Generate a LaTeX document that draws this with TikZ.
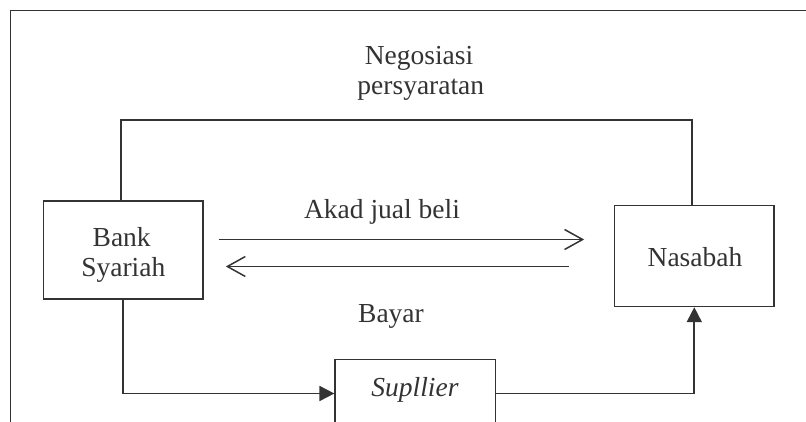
\documentclass[tikz,border=0pt]{standalone}
\usepackage{fontspec}
\setmainfont{Liberation Serif}
\usetikzlibrary{arrows.meta}
\definecolor{ink}{HTML}{333333}
\begin{document}
\begin{tikzpicture}[x=1pt,y=1pt,
  box/.style={draw=ink, line width=1.1pt, minimum width=159.3pt, inner sep=0pt},
  txt/.style={text=ink, anchor=base, inner sep=0pt, font=\fontsize{27.5}{30}\selectfont},
  conn/.style={draw=ink, line width=1.8pt},
  openarr/.style={conn, -{Straight Barb[length=18pt,width=20pt,line width=1.5pt]}},
  fillarr/.style={conn, -{Triangle[length=15pt,width=15pt]}}]
\useasboundingbox (0,0) rectangle (806,421);
\clip (0,0) rectangle (806,421);
% frame
\draw[ink, line width=1pt] (10,-2) -- (10,410) -- (808,410);
% boxes
\node[box, minimum height=98pt] (bank) at (123.3,171) {};
\node[box, minimum height=100.7pt] (nas) at (694.3,164.7) {};
\node[box, minimum width=160.3pt, minimum height=68.6pt] (sup) at (415.1,27.5) {};
% texts
\node[txt] (nego1) at (419,356) {Negosiasi};
\node[txt] (nego2) at (420.8,326) {persyaratan};
\node[txt] (akad) at (382,202.7) {Akad jual beli};
\node[txt] (bank1) at (121.7,174.3) {Bank};
\node[txt] (bank2) at (123.3,144.3) {Syariah};
\node[txt] (nastxt) at (695,154.3) {Nasabah};
\node[txt] (bayar) at (391,98.7) {Bayar};
\node[txt] (suptxt) at (415,25) {\textit{Supllier}};
% connectors
\draw[conn] ([xshift=-2.3pt]bank.north) -- ++(0,80.7) -| ([xshift=-2.6pt]nas.north);
\draw[openarr] ([shift={(15,10.5)}]bank.east) -- ([shift={(-30,16.8)}]nas.west);
\draw[openarr] ([shift={(-45,-10.2)}]nas.west) -- ([shift={(22.3,-16.5)}]bank.east);
\draw[fillarr] (bank.south) |- (sup.west);
\draw[fillarr] (sup.east) -| (nas.south);
\end{tikzpicture}
\end{document}
